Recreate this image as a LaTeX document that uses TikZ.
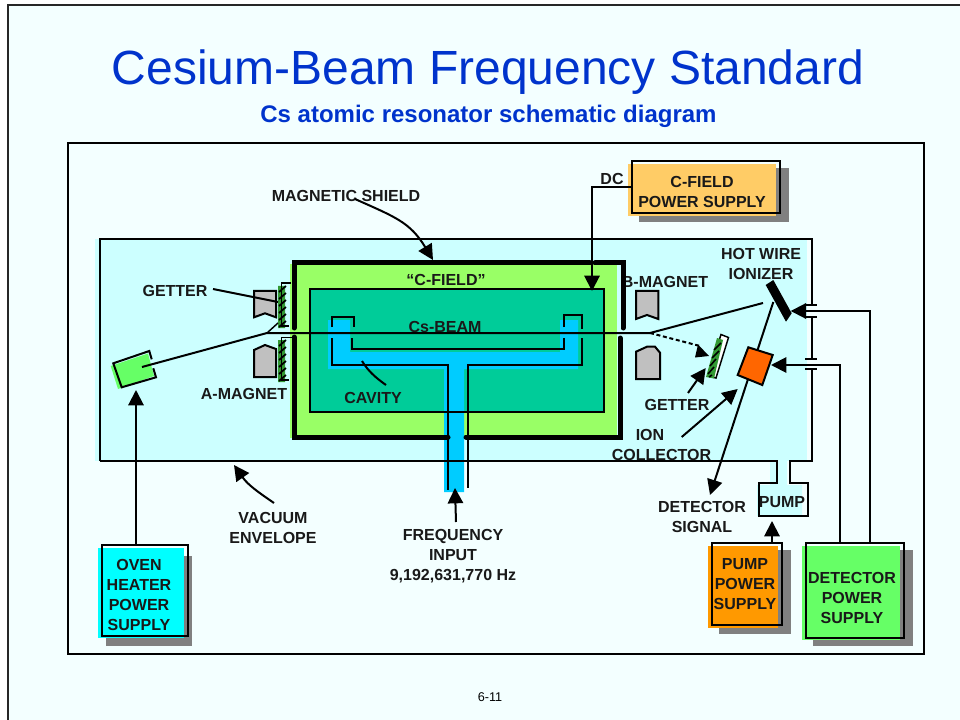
\documentclass[tikz,border=0pt]{standalone}
\usepackage{fontspec}
\setmainfont{Liberation Sans}
\usetikzlibrary{arrows.meta}
\definecolor{pagebg}{HTML}{F3FFFF}
\definecolor{vacuum}{HTML}{CCFFFF}
\definecolor{shieldg}{HTML}{99FF66}
\definecolor{innerg}{HTML}{00CC99}
\definecolor{cavblue}{HTML}{00CCFF}
\definecolor{titleblue}{HTML}{0033CC}
\definecolor{ovengreen}{HTML}{66FF66}
\definecolor{ovencyan}{HTML}{00FFFF}
\definecolor{orangeA}{HTML}{FF6600}
\definecolor{orangeB}{HTML}{FF9900}
\definecolor{goldbox}{HTML}{FFCC66}
\definecolor{getterg}{HTML}{339933}
\definecolor{magnetg}{HTML}{C0C0C0}
\definecolor{shadowg}{HTML}{808080}
\tikzset{
  x=0.75pt,y=-0.75pt,
  lab/.style={font=\bfseries\fontsize{12}{15}\selectfont,align=center,inner sep=0pt,text=black!90},
  wire/.style={draw=black,line width=1.5pt},
  thin wire/.style={draw=black,line width=1.1pt},
  conn/.style={wire,-{Triangle[length=11.5pt,width=11.5pt]}},
  shield/.style={draw=black,line width=3.75pt,line cap=round},
  outl/.style={draw=black,line width=1.5pt,inner sep=0pt,fill=none},
  magnet/.style={fill=magnetg,draw=black,line width=1.5pt},
  shadowbox/.style={fill=shadowg},
}
\begin{document}
\begin{tikzpicture}
\useasboundingbox (0,0) rectangle (960,720);
% page
\fill[white] (0,0) rectangle (960,720);
\fill[pagebg] (8,5) rectangle (960,720);
\draw[line width=1.5pt,draw=black!85] (8,720) -- (8,5) -- (960,5);
\node[font=\fontsize{36}{40}\selectfont,text=titleblue,inner sep=0pt] (title) at (488,72) {Cesium-Beam Frequency Standard};
\node[font=\bfseries\fontsize{18}{22}\selectfont,text=titleblue,inner sep=0pt] (subtitle) at (488.5,116) {Cs atomic resonator schematic diagram};
\node[font=\fontsize{9.5}{12}\selectfont,inner sep=0pt] (pagenum) at (490,697) {6-11};
\draw[line width=1.5pt] (68,143) rectangle (924,654);
% fills
\fill[vacuum] (95,239) rectangle (807,461);
\fill[vacuum] (770,461) rectangle (787,486) (757,485) rectangle (802,516);
\fill[shieldg] (290,264) rectangle (617,438);
\fill[innerg] (310,289) rectangle (604,412);
\fill[cavblue] (328,320) -- (350,320) -- (350,352) -- (560,352) -- (560,320) -- (578,320) -- (578,369) -- (464,369) -- (464,492) -- (444,492) -- (444,369) -- (328,369) -- cycle;
% envelope outline
\draw[wire] (100,461) -- (100,239) -- (812,239) -- (812,305);
\draw[wire] (812,317) -- (812,359);
\draw[wire] (812,369) -- (812,461) -- (790,461) -- (790,483) -- (808,483) -- (808,516) -- (759,516) -- (759,483) -- (777,483) -- (777,461) -- (100,461);
\draw[wire] (805,305) -- (817,305) (805,317) -- (817,317) (805,359) -- (817,359) (805,369) -- (817,369);
% inner outline
\draw[wire] (310,289) rectangle (604,412);
% labels
\node[lab] (lshield) at (346,196) {MAGNETIC SHIELD};
\node[lab] (lcfield) at (446,280) {“C-FIELD”};
\node[lab] (lbeam) at (445,327) {Cs-BEAM};
\node[lab] (lcavity) at (373,398) {CAVITY};
\node[lab] (lgetterA) at (175,291) {GETTER};
\node[lab] (lamag) at (244,394) {A-MAGNET};
\node[lab] (lbmag) at (665,282) {B-MAGNET};
\node[lab] (lgetterB) at (677,405) {GETTER};
\node[lab] (lhot) at (761,264) {HOT WIRE\\IONIZER};
\node[lab] (lion) at (650,435) {ION};
\node[lab] (lcoll) at (661.5,455) {COLLECTOR};
\node[lab] (ldet) at (702,517) {DETECTOR\\SIGNAL};
\node[lab] (lpump) at (782,502) {PUMP};
\node[lab] (lvac) at (273,528) {VACUUM\\ENVELOPE};
\node[lab] (lfreq) at (453,556) {FREQUENCY\\INPUT\\9,192,631,770 Hz};
\node[lab] (ldc) at (612,179) {DC};
% cavity outline
\draw[wire] (332,327) -- (332,317) -- (354,317) -- (354,327);
\draw[wire] (332,338) -- (332,365) -- (448,365) -- (448,490);
\draw[wire] (352,338) -- (352,349) -- (564,349) -- (564,338);
\draw[wire] (564,327) -- (564,315) -- (582,315) -- (582,329);
\draw[wire] (582,338) -- (582,365) -- (468,365) -- (468,488);
% shield
\draw[shield] (294,328) -- (294,263) -- (590,263);
\draw[shield] (595,263) -- (623,263) -- (623,328);
\draw[shield] (620,338) -- (620,437) -- (466,437);
\draw[shield] (448,437) -- (294,437) -- (294,337);
% magnets
\draw[magnet] (254,291) -- (276,291) -- (276,317.3) -- (265,313.3) -- (254,317.3) -- cycle;
\draw[magnet] (254,350) -- (265,345) -- (276,349) -- (276,377) -- (254,377) -- cycle;
\draw[magnet] (636,291) -- (658.3,291) -- (658.3,319) -- (647,315) -- (636,319) -- cycle;
\draw[magnet] (636,351.7) -- (647,346.7) -- (655,346.7) -- (660,352.7) -- (660,379) -- (636,379) -- cycle;
% A getters
\fill[getterg] (278,286) rectangle (285,328) (278,340) rectangle (285,382);
\draw[thin wire] (291,283) -- (281.7,283) -- (281.7,326) -- (289,326);
\draw[thin wire] (292,337.3) -- (281.7,337.3) -- (281.7,380) -- (289,380);
\foreach \hy in {292,299,...,327} \draw[black,line width=1.3pt] (279,\hy) -- (286,\hy-6);
\foreach \hy in {346,353,...,381} \draw[black,line width=1.3pt] (279,\hy) -- (286,\hy-6);
% B getter
\draw[fill=white,line width=1.1pt] (721,334.5) -- (728.5,337.5) -- (716,378) -- (708,376) -- cycle;
\fill[getterg] (717,338) -- (723,340) -- (714,378.5) -- (706,377) -- cycle;
\draw[black,line width=1.2pt] (721,343) -- (714,350) (719,351) -- (712,358) (716,359) -- (710,366) (714,367) -- (708,374) (712,375) -- (709,377);
% oven
\fill[ovengreen] (110.7,366) -- (148,353.5) -- (154,376) -- (118,389) -- cycle;
\draw[wire] (151.7,359.3) -- (149.3,351) -- (113.3,363.3) -- (121.7,387.3) -- (156,377.3) -- (153.3,368.3);
\coordinate (ovenin) at (136,390);
\coordinate (ovenbeam) at (142,367);
% beam
\coordinate (beamL) at (267,333);
\coordinate (beamR) at (650,333);
\coordinate (ionbeam) at (763,303);
\coordinate (getAin) at (278,323);
\draw[wire] (ovenbeam) -- (beamL) -- (beamR) -- (ionbeam);
\draw[thin wire] (beamL) -- (getAin);
\draw[wire,densely dashed] (beamR) -- (700,346);
\fill[black] (698,344.5) -- (695,357.5) -- (709,356) -- cycle;
% detector line, collector, ionizer
\coordinate (ionfoot) at (773.3,302);
\coordinate (detsig) at (710,495);
\draw[conn] (ionfoot) -- (detsig);
\draw[wire,fill=orangeA] (748.3,347.3) -- (772.7,355) -- (762.3,385) -- (737.7,375) -- cycle;
\fill[black] (765.7,285) -- (773.3,280) -- (791.7,313.3) -- (786,321.7) -- cycle;
% supplies
\fill[shadowbox] (639,168) rectangle (789,222);
\fill[goldbox] (628,164) rectangle (776,216);
\node[outl,minimum width=111pt,minimum height=39pt] (cbox) at (706,187) {};
\node[lab] (ctext) at (702,192) {C-FIELD\\POWER SUPPLY};
\fill[shadowbox] (106,556) rectangle (192,646);
\fill[ovencyan] (98,548) rectangle (184,638);
\node[outl,minimum width=64.5pt,minimum height=68.25pt] (ovenbox) at (145,590.5) {};
\node[lab] (oventext) at (139,594.5) {OVEN\\HEATER\\POWER\\SUPPLY};
\fill[shadowbox] (719,550) rectangle (791,634);
\fill[orangeB] (708,546) rectangle (778,628);
\node[outl,minimum width=52.5pt,minimum height=61.5pt] (pumpbox) at (747,584) {};
\node[lab] (pumptext) at (745,584) {PUMP\\POWER\\SUPPLY};
\fill[shadowbox] (813,550) rectangle (913,646);
\fill[ovengreen] (802,546) rectangle (900,640);
\node[outl,minimum width=73.5pt,minimum height=71.25pt] (detbox) at (855,590.5) {};
\node[lab] (dettext) at (852,598) {DETECTOR\\POWER\\SUPPLY};
% connectors
\coordinate (freqtip) at (455,488);
\coordinate (freqtail) at (456,522);
\draw[conn] (freqtail) -- (freqtip);
\coordinate (dctip) at (592,291);
\draw[conn] (cbox.west |- 0,187) -- (592,187) -- (dctip);
\coordinate (pumpin) at (772,521);
\draw[conn] (pumpbox.north -| pumpin) -- (pumpin);
\coordinate (ovenfeed) at (136,545);
\draw[conn] (ovenfeed) -- (ovenin);
\coordinate (iontip) at (790.7,311);
\draw[conn] (detbox.north -| 870,0) -- (870,311) -- (iontip);
\coordinate (colltip) at (771,365);
\draw[conn] (detbox.north -| 840,0) -- (840,365) -- (colltip);
% leaders
\coordinate (shieldtip) at (433,260);
\coordinate (shieldtail) at (355,199);
\draw[conn] (shieldtail) .. controls (395,217) and (410,222) .. (shieldtip);
\coordinate (vactail) at (274,503);
\coordinate (vactip) at (234,465);
\draw[conn] (vactail) .. controls (258,492) and (248,485) .. (vactip);
\coordinate (gAlead) at (213,289);
\coordinate (gAend) at (278,302);
\draw[wire] (gAlead) -- (gAend);
\coordinate (gBtail) at (688,393);
\coordinate (gBtip) at (705.7,368);
\draw[conn] (gBtail) -- (gBtip);
\coordinate (icoltail) at (681.7,437);
\coordinate (icoltip) at (737.7,389);
\draw[conn] (icoltail) -- (icoltip);
\coordinate (cavstart) at (362,361);
\coordinate (cavend) at (386,385);
\draw[wire] (cavstart) .. controls (368,371) and (376,378) .. (cavend);
\end{tikzpicture}
\end{document}
